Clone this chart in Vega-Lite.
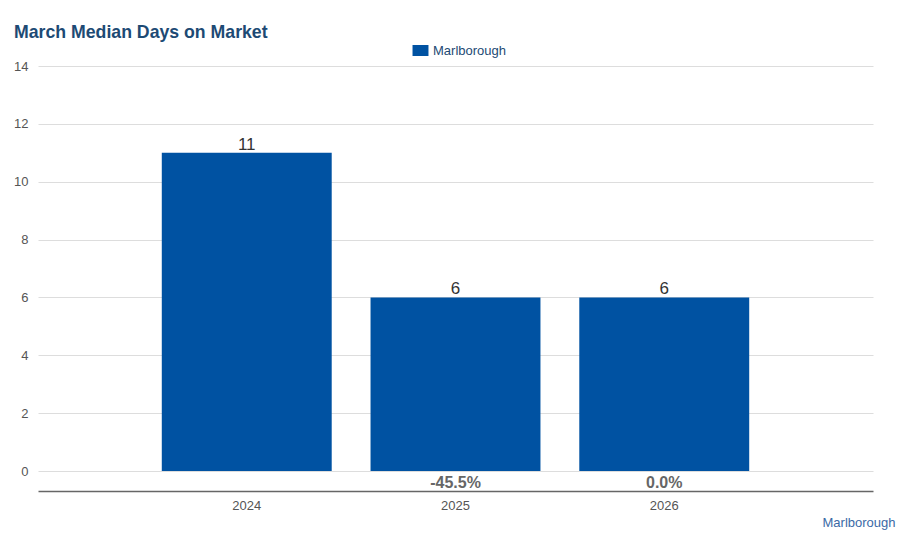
{
  "$schema": "https://vega.github.io/schema/vega-lite/v6.json",
  "width": 835,
  "height": 425,
  "autosize": {"type": "none"},
  "padding": {"left": 38, "top": 66, "right": 46, "bottom": 44},
  "background": "white",
  "title": {
    "text": "March Median Days on Market",
    "anchor": "start",
    "frame": "group",
    "dx": -24,
    "dy": 2,
    "fontSize": 17.7,
    "font": "Liberation Sans",
    "fontWeight": "bold",
    "color": "#1d4a74"
  },
  "config": {
    "view": {"stroke": null},
    "font": "Liberation Sans"
  },
  "data": {
    "values": [
      {"year": "2024", "days": 11, "series": "Marlborough", "change": ""},
      {"year": "2025", "days": 6, "series": "Marlborough", "change": "-45.5%"},
      {"year": "2026", "days": 6, "series": "Marlborough", "change": "0.0%"}
    ]
  },
  "encoding": {
    "x": {
      "field": "year",
      "type": "nominal",
      "sort": null,
      "scale": {"paddingInner": 0.186, "paddingOuter": 0.593},
      "axis": {
        "title": "Marlborough",
        "titleAnchor": "end",
        "titleAlign": "right",
        "titleBaseline": "middle",
        "titleX": 857,
        "titleY": 31,
        "titleFontSize": 13,
        "titleFontWeight": "normal",
        "titleColor": "#3b6aa6",
        "labelAngle": 0,
        "labelFontSize": 13,
        "labelColor": "#555555",
        "labelPadding": 8,
        "ticks": false,
        "domainColor": "#666666",
        "domainWidth": 1.5,
        "grid": false
      }
    }
  },
  "layer": [
    {
      "mark": {"type": "bar", "color": "#0052A2"},
      "encoding": {
        "y": {
          "field": "days",
          "type": "quantitative",
          "scale": {"domain": [-0.69, 14], "nice": false, "zero": false},
          "axis": {
            "title": null,
            "values": [0, 2, 4, 6, 8, 10, 12, 14],
            "domain": false,
            "ticks": false,
            "grid": true,
            "gridColor": "#dddddd",
            "labelFontSize": 13,
            "labelColor": "#555555",
            "labelPadding": 10
          }
        },
        "y2": {"datum": 0},
        "color": {
          "field": "series",
          "type": "nominal",
          "scale": {"range": ["#0052A2"]},
          "legend": {
            "title": null,
            "orient": "none",
            "legendX": 376,
            "legendY": -22,
            "direction": "horizontal",
            "labelFontSize": 13,
            "labelColor": "#1d4a74",
            "labelOffset": 6,
            "symbolType": "M-1.45,-1 H1.45 V1 H-1.45 Z",
            "symbolSize": 121,
            "symbolStrokeWidth": 0
          }
        }
      }
    },
    {
      "mark": {"type": "text", "fontSize": 17, "color": "#333333", "baseline": "alphabetic", "dy": -3},
      "encoding": {
        "y": {"field": "days", "type": "quantitative"},
        "text": {"field": "days", "type": "quantitative"}
      }
    },
    {
      "mark": {"type": "text", "fontSize": 16, "fontWeight": "bold", "color": "#666666", "baseline": "middle", "dy": 12},
      "encoding": {
        "y": {"datum": 0},
        "text": {"field": "change", "type": "nominal"}
      }
    }
  ]
}
